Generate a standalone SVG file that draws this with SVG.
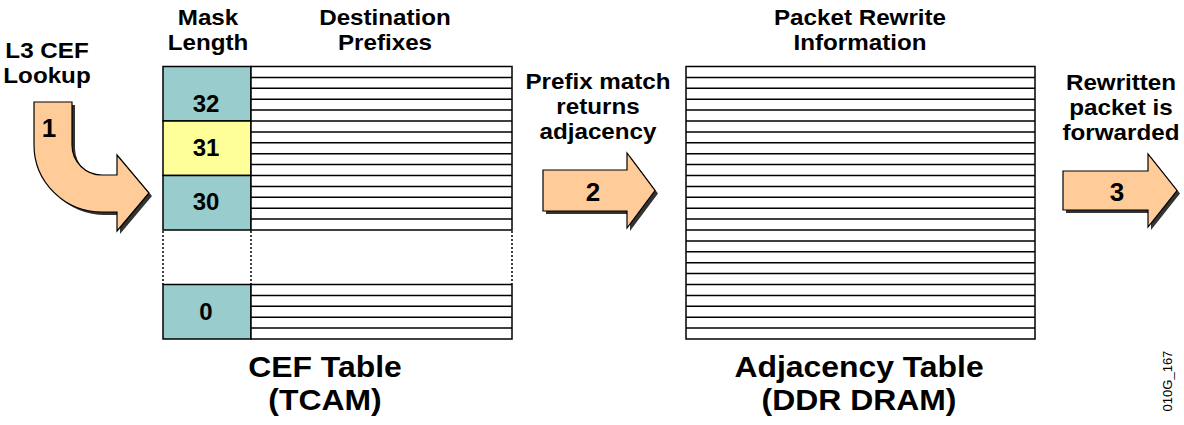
<svg xmlns="http://www.w3.org/2000/svg" width="1184" height="425" viewBox="0 0 1184 425">
  <style>
    .t{font-family:"Liberation Sans",Arial,sans-serif;font-weight:bold;font-size:24px;fill:#000;text-anchor:middle}
    .lbl{font-size:22px}
    .big{font-size:29px}
    .anum{font-size:26px}
    .small{font-family:"Liberation Sans",Arial,sans-serif;font-size:13px;fill:#000;text-anchor:middle}
    .grid{stroke:#000;stroke-width:1.5;fill:none}
    .box{stroke:#000;stroke-width:1.5}
    .dot{stroke:#000;stroke-width:1.5;stroke-dasharray:2 2;fill:none}
    .arrow{fill:#FFCC99;stroke:#000;stroke-width:1.2;stroke-linejoin:miter}
    .shadow{fill:#333}
  </style>
  <rect width="1184" height="425" fill="#fff"/>

  <g id="left-label">
    <text class="t lbl" transform="translate(47,0) scale(1.1,1)"><tspan x="0" y="58">L3 CEF</tspan><tspan x="0" y="83">Lookup</tspan></text>
  </g>

  <g id="cef-table">
    <text class="t lbl" transform="translate(208,0) scale(1.1,1)"><tspan x="0" y="25">Mask</tspan><tspan x="0" y="50">Length</tspan></text>
    <text class="t lbl" transform="translate(385,0) scale(1.1,1)"><tspan x="0" y="25">Destination</tspan><tspan x="0" y="50">Prefixes</tspan></text>
    <rect x="163" y="66.5" width="88" height="54.5" fill="#99CCCC" class="box"/>
    <rect x="163" y="121" width="88" height="54.5" fill="#FFFF99" class="box"/>
    <rect x="163" y="175.5" width="88" height="54.5" fill="#99CCCC" class="box"/>
    <rect x="163" y="284.5" width="88" height="54.5" fill="#99CCCC" class="box"/>
    <rect x="251" y="66.5" width="261" height="163.5" fill="#fff" class="box"/>
    <rect x="251" y="284.5" width="261" height="54.5" fill="#fff" class="box"/>
    <path class="grid" d="M251,77.4H512M251,88.3H512M251,99.2H512M251,110.1H512M251,121H512M251,131.9H512M251,142.8H512M251,153.7H512M251,164.6H512M251,175.5H512M251,186.4H512M251,197.3H512M251,208.2H512M251,219.1H512M251,295.4H512M251,306.3H512M251,317.2H512M251,328.1H512"/>
    <path class="dot" d="M163,231V284M251,231V284M512,231V284"/>
    <text class="t" x="206" y="112">32</text>
    <text class="t" x="206" y="156">31</text>
    <text class="t" x="206" y="210">30</text>
    <text class="t" x="206" y="320">0</text>
    <text class="t big" transform="translate(325,0) scale(1.1,1)"><tspan x="0" y="377">CEF Table</tspan><tspan x="0" y="410">(TCAM)</tspan></text>
  </g>

  <g id="middle-label">
    <text class="t lbl" transform="translate(598,0) scale(1.1,1)"><tspan x="0" y="89">Prefix match</tspan><tspan x="0" y="114">returns</tspan><tspan x="0" y="139">adjacency</tspan></text>
  </g>

  <g id="adjacency-table">
    <text class="t lbl" transform="translate(860,0) scale(1.1,1)"><tspan x="0" y="25">Packet Rewrite</tspan><tspan x="0" y="50">Information</tspan></text>
    <rect x="686" y="66.5" width="349" height="272.5" fill="#fff" class="box"/>
    <path class="grid" d="M686,77.4H1035M686,88.3H1035M686,99.2H1035M686,110.1H1035M686,121H1035M686,131.9H1035M686,142.8H1035M686,153.7H1035M686,164.6H1035M686,175.5H1035M686,186.4H1035M686,197.3H1035M686,208.2H1035M686,219.1H1035M686,230H1035M686,240.9H1035M686,251.8H1035M686,262.7H1035M686,273.6H1035M686,284.5H1035M686,295.4H1035M686,306.3H1035M686,317.2H1035M686,328.1H1035"/>
    <text class="t big" transform="translate(859,0) scale(1.1,1)"><tspan x="0" y="377">Adjacency Table</tspan><tspan x="0" y="410">(DDR DRAM)</tspan></text>
  </g>

  <g id="right-label">
    <text class="t lbl" transform="translate(1121,0) scale(1.1,1)"><tspan x="0" y="90">Rewritten</tspan><tspan x="0" y="115">packet is</tspan><tspan x="0" y="140">forwarded</tspan></text>
  </g>

  <g id="connectors">
    <g id="arrow-1">
      <path class="shadow" transform="translate(3,3)" d="M34,102L72,102L72,145A30,30 0 0 0 102,175L117,175L117,155L149,193L117,231L117,212L102,212A68,67 0 0 1 34,145Z"/>
      <path class="arrow" d="M34,102L72,102L72,145A30,30 0 0 0 102,175L117,175L117,155L149,193L117,231L117,212L102,212A68,67 0 0 1 34,145Z"/>
      <text class="t anum" x="49" y="137">1</text>
    </g>
    <g id="arrow-2">
      <path class="shadow" transform="translate(3,3)" d="M543,170L627,170L627,153L655,190.5L627,228L627,211L543,211Z"/>
      <path class="arrow" d="M543,170L627,170L627,153L655,190.5L627,228L627,211L543,211Z"/>
      <text class="t anum" x="593" y="201">2</text>
    </g>
    <g id="arrow-3">
      <path class="shadow" transform="translate(3,3)" d="M1063,171L1148,171L1148,154L1177,190.5L1148,227L1148,210L1063,210Z"/>
      <path class="arrow" d="M1063,171L1148,171L1148,154L1177,190.5L1148,227L1148,210L1063,210Z"/>
      <text class="t anum" x="1117" y="201">3</text>
    </g>
  </g>

  <text class="small" x="1172" y="381" transform="rotate(-90 1172 381)">010G_167</text>
</svg>
